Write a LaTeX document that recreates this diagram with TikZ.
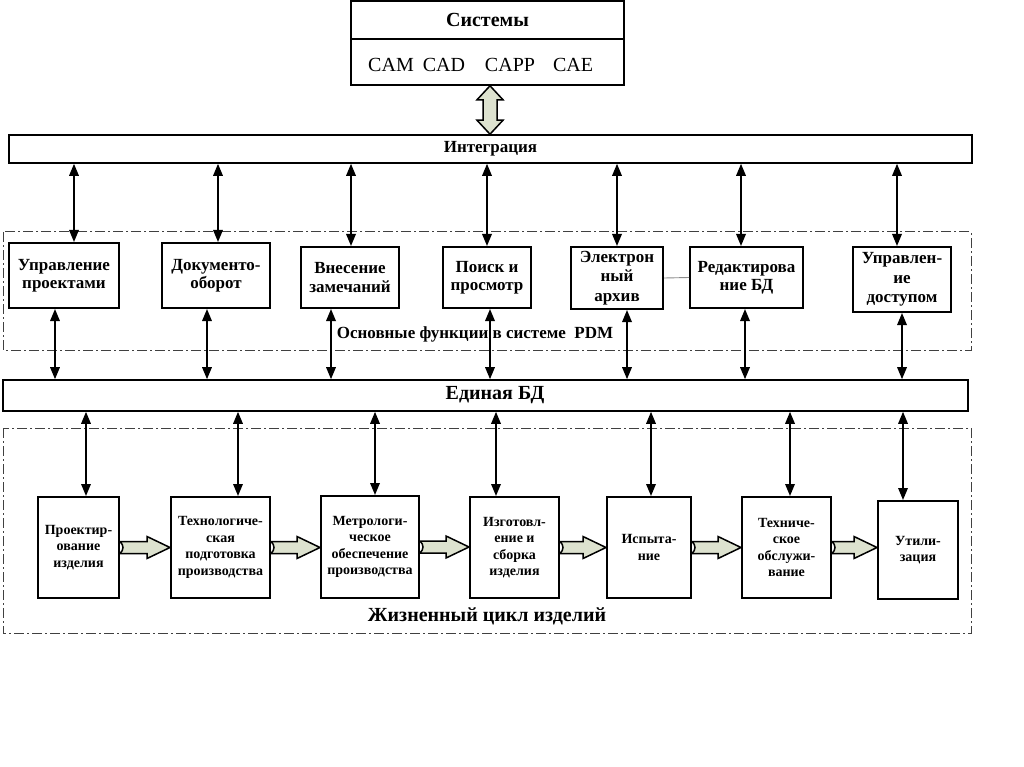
\documentclass[tikz,border=0pt]{standalone}
\usepackage{fontspec}
\setmainfont{Liberation Serif}
\usetikzlibrary{arrows.meta,calc}
\definecolor{blkfill}{HTML}{DDE2CF}
\newcommand{\fs}[2]{\fontsize{#1}{#2}\selectfont}
\tikzset{
  box/.style={draw=black, line width=2pt, fill=white, align=center, inner sep=0pt, font=\bfseries\upshape\fs{17}{18.5}},
  lcbox/.style={draw=black, line width=2pt, fill=white, align=center, inner sep=0pt, font=\bfseries\upshape\fs{14}{16.5}},
  bar/.style={draw=black, line width=1.6pt, fill=white, inner sep=0pt},
  frame/.style={draw=black!75, line width=1pt, dash pattern=on 10pt off 3pt on 2pt off 3pt},
  dbl/.style={line width=1.7pt, {Triangle[length=12pt,width=9.5pt]}-{Triangle[length=12pt,width=9.5pt]}},
  blk/.style={draw=black, line width=1.5pt, fill=blkfill, line join=miter},
  lbl/.style={inner sep=0pt, font=\bfseries\upshape\fs{17}{19}},
}
\newcommand{\blockarrow}[2]{%
  \path[blk] let \p1=(#1.east), \p2=(#2.west) in
    (\x1,\y1+6pt) -- (\x2-23pt,\y1+6pt) -- (\x2-23pt,\y1+11pt) -- (\x2,\y1)
    -- (\x2-23pt,\y1-11pt) -- (\x2-23pt,\y1-6pt) -- (\x1,\y1-6pt)
    .. controls (\x1+4pt,\y1-2pt) and (\x1+4pt,\y1+2pt) .. (\x1,\y1+6pt) -- cycle;}
\begin{document}
\begin{tikzpicture}[x=1pt,y=-1pt]
\useasboundingbox[fill=white] (0,0) rectangle (1024,767);

% frames
\draw[frame] (3,232) rectangle (971,350);
\draw[frame] (3,428) rectangle (971,633);

% Systems box
\node[draw=black, line width=1.6pt, minimum width=273pt, minimum height=84pt, inner sep=0pt] (sys) at (487.5,43) {};
\draw[line width=1.4pt] (sys.west |- 0,39) -- (sys.east |- 0,39);
\node[lbl, font=\bfseries\upshape\fs{20}{22}] (systxt) at (487.5,20) {Системы};
\node[inner sep=0pt, font=\fs{20}{22}] (cam) at (391,65) {CAM};
\node[inner sep=0pt, font=\fs{20}{22}] (cad) at (444,65) {CAD};
\node[inner sep=0pt, font=\fs{20}{22}] (capp) at (510,65) {CAPP};
\node[inner sep=0pt, font=\fs{20}{22}] (cae) at (573,65) {CAE};

% Integration bar
\node[bar, minimum width=963pt, minimum height=28pt, font=\bfseries\upshape\fs{17}{19}] (integ) at (490.5,149) {Интеграция};

% hollow double arrow
\path[blk] let \p1=([xshift=2.5pt]sys.south), \p2=(integ.north) in
  (\x1,\y1) -- (\x1+13pt,\y1-14pt) -- (\x1+7pt,\y1-14pt) -- (\x1+7pt,\y2+14pt)
  -- (\x1+13pt,\y2+14pt) -- (\x1,\y2) -- (\x1-13pt,\y2+14pt) -- (\x1-7pt,\y2+14pt)
  -- (\x1-7pt,\y1-14pt) -- (\x1-13pt,\y1-14pt) -- cycle;

% PDM boxes
\node[box, minimum width=110pt, minimum height=65pt] (p1) at (64,275.5) {Управление\\проектами};
\node[box, minimum width=108pt, minimum height=65pt] (p2) at (216,275.5) {Документо-\\оборот};
\node[box, minimum width=98pt, minimum height=61pt] (p3) at (350,277.5) {Внесение\\замечаний};
\node[box, minimum width=88pt, minimum height=61pt] (p4) at (487,277.5) {Поиск и\\просмотр};
\node[box, minimum width=92pt, minimum height=62pt, font=\bfseries\upshape\fs{17}{19.5}] (p5) at (617,278) {Электрон\\ный\\архив};
\node[box, minimum width=113pt, minimum height=61pt] (p6) at (746.5,277.5) {Редактирова\\ние БД};
\node[box, minimum width=98pt, minimum height=65pt, font=\bfseries\upshape\fs{17}{19.5}] (p7) at (902,279.5) {Управлен-\\ие\\доступом};
\draw[black!45, line width=0.9pt] (p5.east) -- (p6.west);

\node[lbl] (pdm) at (475,334) {Основные функции в системе\ \ PDM};

% Single DB bar
\node[bar, minimum width=965pt, minimum height=31pt, font=\bfseries\upshape\fs{20}{22}] (edb) at (485.5,395.5) {\hspace*{19pt}Единая БД};

% arrows integration -> PDM boxes
\foreach \n/\dx in {p1/10,p2/2,p3/1,p4/0,p5/0,p6/-5.5,p7/-5}{
  \draw[dbl] ([xshift=\dx pt]\n.north |- integ.south) -- ([xshift=\dx pt]\n.north);
}
% arrows PDM boxes -> DB
\foreach \n/\dx in {p1/-9,p2/-9,p3/-19,p4/3,p5/10,p6/-1.5,p7/0}{
  \draw[dbl] ([xshift=\dx pt]\n.south) -- ([xshift=\dx pt]\n.south |- edb.north);
}

% lifecycle boxes
\node[lcbox, minimum width=81pt, minimum height=101pt] (l1) at (78.5,547.5) {Проектир-\\ование\\изделия};
\node[lcbox, minimum width=99pt, minimum height=101pt] (l2) at (220.5,547.5) {Технологиче-\\ская\\подготовка\\производства};
\node[lcbox, minimum width=98pt, minimum height=102pt] (l3) at (370,547) {Метрологи-\\ческое\\обеспечение\\производства};
\node[lcbox, minimum width=89pt, minimum height=101pt] (l4) at (514.5,547.5) {Изготовл-\\ение и\\сборка\\изделия};
\node[lcbox, minimum width=84pt, minimum height=101pt] (l5) at (649,547.5) {Испыта-\\ние};
\node[lcbox, minimum width=89pt, minimum height=101pt] (l6) at (786.5,547.5) {Техниче-\\ское\\обслужи-\\вание};
\node[lcbox, minimum width=80pt, minimum height=98pt] (l7) at (918,550) {Утили-\\зация};

% arrows DB -> lifecycle
\foreach \n/\dx in {l1/7.5,l2/17.5,l3/5,l4/-18.5,l5/2,l6/3.5,l7/-15}{
  \draw[dbl] ([xshift=\dx pt]\n.north |- edb.south) -- ([xshift=\dx pt]\n.north);
}

% block arrows
\blockarrow{l1}{l2}
\blockarrow{l2}{l3}
\blockarrow{l3}{l4}
\blockarrow{l4}{l5}
\blockarrow{l5}{l6}
\blockarrow{l6}{l7}

\node[lbl, font=\bfseries\upshape\fs{20}{22}] (lc) at (487,616) {Жизненный цикл изделий};
\end{tikzpicture}
\end{document}
